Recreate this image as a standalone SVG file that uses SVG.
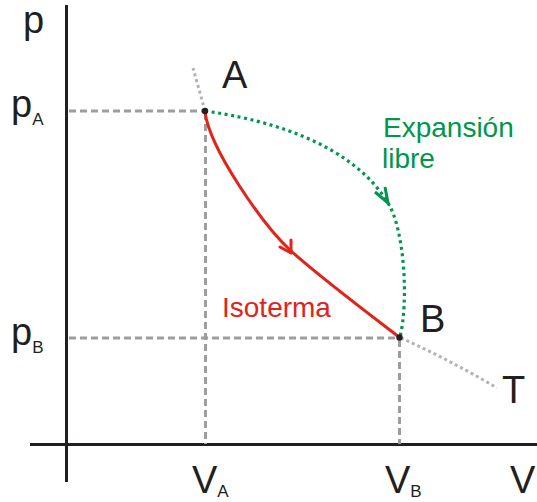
<svg xmlns="http://www.w3.org/2000/svg" width="537" height="502" viewBox="0 0 537 502">
<style>
.axis{stroke:#231f20;stroke-width:3;fill:none}
.dash{stroke:#9d9d9d;stroke-width:3;stroke-dasharray:7 4;fill:none}
.iso{stroke:#b3b3b3;stroke-width:3;stroke-dasharray:3 3;fill:none}
.red{stroke:#e2231a;stroke-width:3;fill:none;stroke-linecap:round;stroke-linejoin:round}
.green{stroke:#00964b;stroke-width:3;fill:none}
.greenDot{stroke:#00964b;stroke-width:3.2;stroke-dasharray:3 3.6;fill:none}
text{font-family:"Liberation Sans",Arial,sans-serif;fill:#231f20}
.big{font-size:38px}
.sub{font-size:17px}
.lbl{font-size:28px}
</style>
<rect width="537" height="502" fill="#fff"/>
<g id="axes">
<line class="axis" x1="66.5" y1="5" x2="66.5" y2="482"/>
<line class="axis" x1="30" y1="444.5" x2="537" y2="444.5"/>
</g>
<g id="guides">
<line class="dash" x1="69" y1="111" x2="205" y2="111"/>
<line class="dash" x1="205.5" y1="113" x2="205.5" y2="444"/>
<line class="dash" x1="69" y1="338" x2="399" y2="338"/>
<line class="dash" x1="399.5" y1="340" x2="399.5" y2="444"/>
</g>
<g id="connectors">
<path class="iso" d="M205,111 L193,68"/>
<path class="iso" d="M401,338 Q450,360 497,388"/>
<path class="greenDot" d="M205,111 C304,125 362,160 388,203 C404,228 409,300 400,337"/>
<path class="green" d="M375,192 L388,203 L385,187"/>
<path class="red" d="M205,112 C210,150 264,226 290,250 C316,274 371,315.5 399,337"/>
<path class="red" d="M280,247 L291,253 L291,240"/>
</g>
<g id="A"><circle cx="205" cy="111" r="3.2" fill="#231f20"/><text class="big" x="222" y="88">A</text></g>
<g id="B"><circle cx="399.5" cy="337.5" r="3.2" fill="#231f20"/><text class="big" x="420" y="332">B</text></g>
<g id="T"><text class="big" x="502" y="403">T</text></g>
<g id="labels">
<text class="big" x="23" y="33">p</text>
<text class="big" x="11" y="117">p<tspan class="sub" dy="8">A</tspan></text>
<text class="big" x="11" y="345">p<tspan class="sub" dy="8">B</tspan></text>
<text class="big" x="192" y="493">V<tspan class="sub" dy="4">A</tspan></text>
<text class="big" x="385" y="493">V<tspan class="sub" dy="4">B</tspan></text>
<text class="big" x="510" y="493">V</text>
<text class="lbl" x="383" y="137" style="fill:#00964b">Expansión</text>
<text class="lbl" x="382" y="168" style="fill:#00964b">libre</text>
<text class="lbl" x="222" y="317" style="fill:#e2231a">Isoterma</text>
</g>
</svg>
